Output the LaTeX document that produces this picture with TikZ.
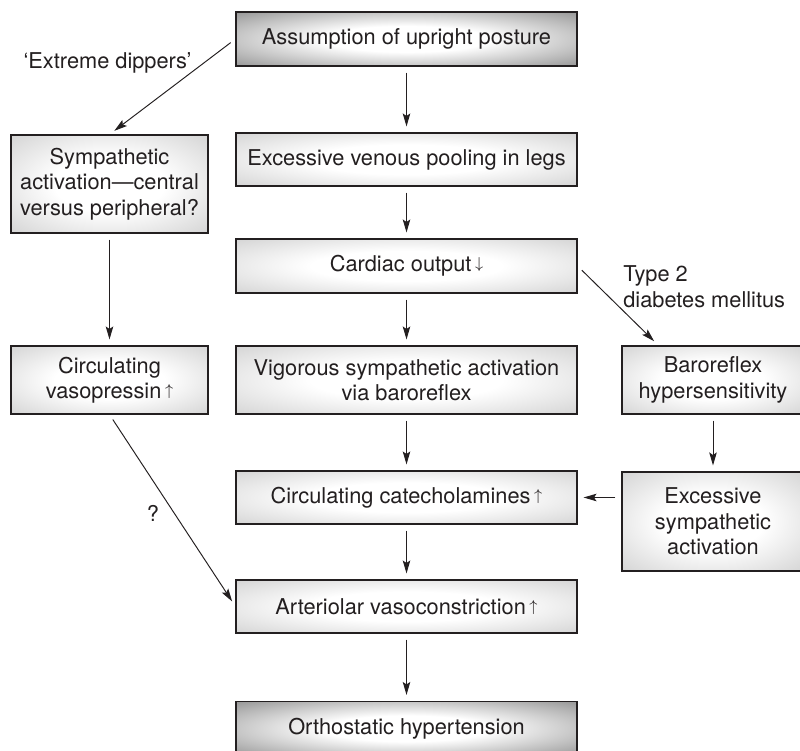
\documentclass[tikz,border=0pt]{standalone}
\usepackage{fontspec}
\setmainfont{TeX Gyre Heros}
\usepackage{tikz}
\usetikzlibrary{arrows.meta, calc}
\definecolor{boxline}{RGB}{35,31,32}
\definecolor{lightedge}{RGB}{188,188,188}
\definecolor{darkedge}{RGB}{105,105,105}
\definecolor{mytext}{RGB}{35,31,32}
\pgfdeclareradialshading{lightglow}{\pgfpoint{0bp}{0bp}}{color(0bp)=(white); color(14bp)=(white); color(48bp)=(lightedge); color(75bp)=(lightedge)}
\pgfdeclareradialshading{darkglow}{\pgfpoint{0bp}{0bp}}{color(0bp)=(white); color(12bp)=(white); color(46bp)=(darkedge); color(75bp)=(darkedge)}
\tikzset{
  box/.style={rectangle, draw=boxline, shade, shading=lightglow,
    minimum width=6.82cm, minimum height=1.06cm, inner sep=0pt,
    align=center, text=mytext, font=\fontsize{12.4}{14.5}\selectfont,
    line width=0.6pt},
  keybox/.style={box, shading=darkglow, minimum height=1.08cm},
  sidebox/.style={box, minimum width=3.94cm},
  rightbox/.style={box, minimum width=3.64cm},
  note/.style={text=mytext, font=\fontsize{12.4}{14.5}\selectfont, inner sep=0pt},
  arrow/.style={-{Stealth[length=2.6mm, width=1.5mm, inset=0.5mm]},
    line width=0.55pt, color=boxline, shorten <=0.12cm, shorten >=0.12cm}
}
\newcommand{\up}{\,\raisebox{1.6pt}{\small$\uparrow$}}
\newcommand{\down}{\,\raisebox{1.6pt}{\small$\downarrow$}}

\begin{document}
\begin{tikzpicture}
  \useasboundingbox (0,0) rectangle (16,15.02);

  \node[keybox] (posture) at (8.13,14.24) {Assumption of upright posture};
  \node[box] (pooling) at (8.13,11.83) {Excessive venous pooling in legs};
  \node[box, minimum height=1.08cm] (cardiac) at (8.13,9.70) {Cardiac output\down};
  \node[box, minimum height=1.36cm] (vigorous) at (8.13,7.42) {Vigorous sympathetic activation\\via baroreflex};
  \node[box] (catechol) at (8.13,5.07) {Circulating catecholamines\up};
  \node[box] (arterio) at (8.13,2.89) {Arteriolar vasoconstriction\up};
  \node[keybox] (ortho) at (8.13,0.45) {Orthostatic hypertension};

  \node[sidebox, minimum height=1.96cm] (central) at (2.19,11.34) {Sympathetic\\activation---central\\versus peripheral?};
  \node[sidebox, minimum height=1.36cm] (vaso) at (2.19,7.42) {Circulating\\vasopressin\up};

  \node[rightbox, minimum height=1.36cm] (baro) at (14.26,7.42) {Baroreflex\\hypersensitivity};
  \node[rightbox, minimum height=1.98cm] (excess) at (14.26,4.59) {Excessive\\sympathetic\\activation};

  \node[note] (dippers) at (2.15,13.76) {‘Extreme dippers’};
  \node[note, anchor=west, align=left] (diabetes) at (12.46,9.29) {Type 2\\diabetes mellitus};
  \node[note] (unsure) at (3.06,4.76) {?};

  \draw[arrow] (posture) -- (pooling);
  \draw[arrow] (pooling) -- (cardiac);
  \draw[arrow] (cardiac) -- (vigorous);
  \draw[arrow] (vigorous) -- (catechol);
  \draw[arrow] (catechol) -- (arterio);
  \draw[arrow] (arterio) -- (ortho);
  \draw[arrow] (posture.west) -- (central.north);
  \draw[arrow] (central) -- (vaso);
  \draw[arrow] (vaso.south) -- (arterio.west);
  \draw[arrow] (cardiac.east) -- ([xshift=0.74cm]baro.north west);
  \draw[arrow] (baro) -- (excess);
  \draw[arrow] (excess.west |- catechol.east) -- (catechol.east);
\end{tikzpicture}
\end{document}
